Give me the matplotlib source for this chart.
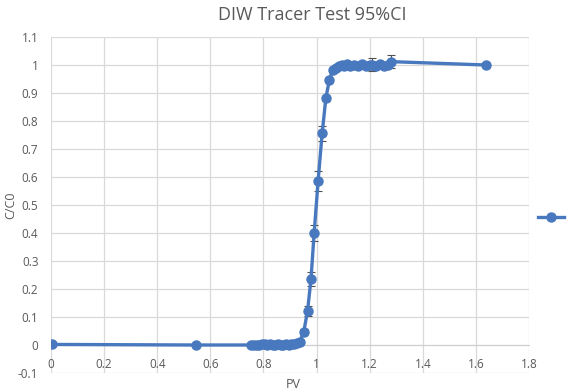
#!/usr/bin/env python3
"""DIW tracer test breakthrough curve with 95% CI error bars."""

import matplotlib
matplotlib.use("Agg")
import matplotlib.pyplot as plt
from matplotlib.lines import Line2D

BLUE = "#4878BE"
GRAY = "#595959"

pv = [0.005, 0.546,
      0.755, 0.765, 0.775, 0.785, 0.795, 0.805, 0.815, 0.825, 0.835, 0.845,
      0.855, 0.865, 0.875, 0.885, 0.895, 0.905, 0.915, 0.925, 0.937,
      0.952, 0.966, 0.979, 0.991, 1.006, 1.021, 1.035, 1.048, 1.061,
      1.072, 1.085, 1.095, 1.105, 1.115, 1.125, 1.140, 1.155, 1.170, 1.185,
      1.200, 1.210, 1.225, 1.240, 1.255, 1.270, 1.280, 1.638]
c_c0 = [0.002, 0.0,
        0.0, 0.0, 0.001, 0.0, 0.002, 0.004, 0.001, 0.002, 0.0, 0.001,
        0.002, 0.001, 0.0, 0.002, 0.001, 0.003, 0.005, 0.008, 0.012,
        0.048, 0.121, 0.235, 0.401, 0.587, 0.756, 0.881, 0.946, 0.982,
        0.990, 0.997, 1.000, 0.995, 1.002, 0.997, 1.000, 0.998, 1.003, 0.998,
        1.000, 1.001, 0.997, 1.003, 0.996, 1.000, 1.012, 1.000]
ci95 = [0.0, 0.0,
        0.0, 0.0, 0.0, 0.0, 0.0, 0.0, 0.0, 0.0, 0.0, 0.0,
        0.0, 0.0, 0.0, 0.0, 0.0, 0.0, 0.0, 0.0, 0.004,
        0.010, 0.017, 0.026, 0.028, 0.036, 0.027, 0.010, 0.006, 0.005,
        0.004, 0.004, 0.004, 0.008, 0.005, 0.004, 0.004, 0.004, 0.004, 0.004,
        0.004, 0.023, 0.004, 0.004, 0.004, 0.006, 0.024, 0.0]

x_ticks = [0, 0.2, 0.4, 0.6, 0.8, 1, 1.2, 1.4, 1.6, 1.8]
x_labels = ["0", "0.2", "0.4", "0.6", "0.8", "1", "1.2", "1.4", "1.6", "1.8"]
y_ticks = [-0.1, 0, 0.1, 0.2, 0.3, 0.4, 0.5, 0.6, 0.7, 0.8, 0.9, 1, 1.1]
y_labels = ["-0.1", "0", "0.1", "0.2", "0.3", "0.4", "0.5", "0.6", "0.7",
            "0.8", "0.9", "1", "1.1"]

plt.rcParams["font.family"] = ["Open Sans", "DejaVu Sans"]

fig = plt.figure(figsize=(5.67, 3.91), dpi=100)
ax = fig.add_axes([51 / 567, 1 - 373 / 391, 478 / 567, 336 / 391])

ax.errorbar(pv, c_c0, yerr=ci95, color=BLUE, linewidth=2.4, marker="o",
            markersize=6.5, ecolor="#505050", elinewidth=0.8, capsize=3,
            capthick=0.8, zorder=3)

ax.set_xlim(0, 1.8)
ax.set_ylim(-0.1, 1.1)
ax.set_xticks(x_ticks)
ax.set_xticklabels(x_labels)
ax.set_yticks(y_ticks)
ax.set_yticklabels(y_labels)
ax.grid(True, color="#d9d9d9", linewidth=0.9, zorder=0)
ax.set_axisbelow(True)

for side in ["top", "right", "left"]:
    ax.spines[side].set_visible(False)
ax.spines["bottom"].set_position(("data", 0))
ax.spines["bottom"].set_color("#d0d0d0")
ax.tick_params(axis="both", length=0, labelsize=8.5, colors=GRAY)
ax.tick_params(axis="x", pad=9)
ax.tick_params(axis="y", pad=9)

fig.text(293 / 567, 1 - 384 / 391, "PV", ha="center", va="center",
         fontsize=9, color=GRAY)
fig.text(11 / 567, 1 - 205 / 391, "C/C0", ha="center", va="center",
         rotation=90, fontsize=9, color=GRAY)
fig.text(312 / 567, 1 - 15 / 391, "DIW Tracer Test 95%CI", ha="center",
         va="center", fontsize=13, color=GRAY)

handle = Line2D([], [], color=BLUE, linewidth=2.4, marker="o", markersize=6.5)
fig.legend(handles=[handle], labels=[""], loc="center",
           bbox_to_anchor=(551 / 567, 1 - 218 / 391), frameon=False,
           handlelength=1.9, handletextpad=0, borderpad=0)

fig.savefig("out.png", dpi=100)
